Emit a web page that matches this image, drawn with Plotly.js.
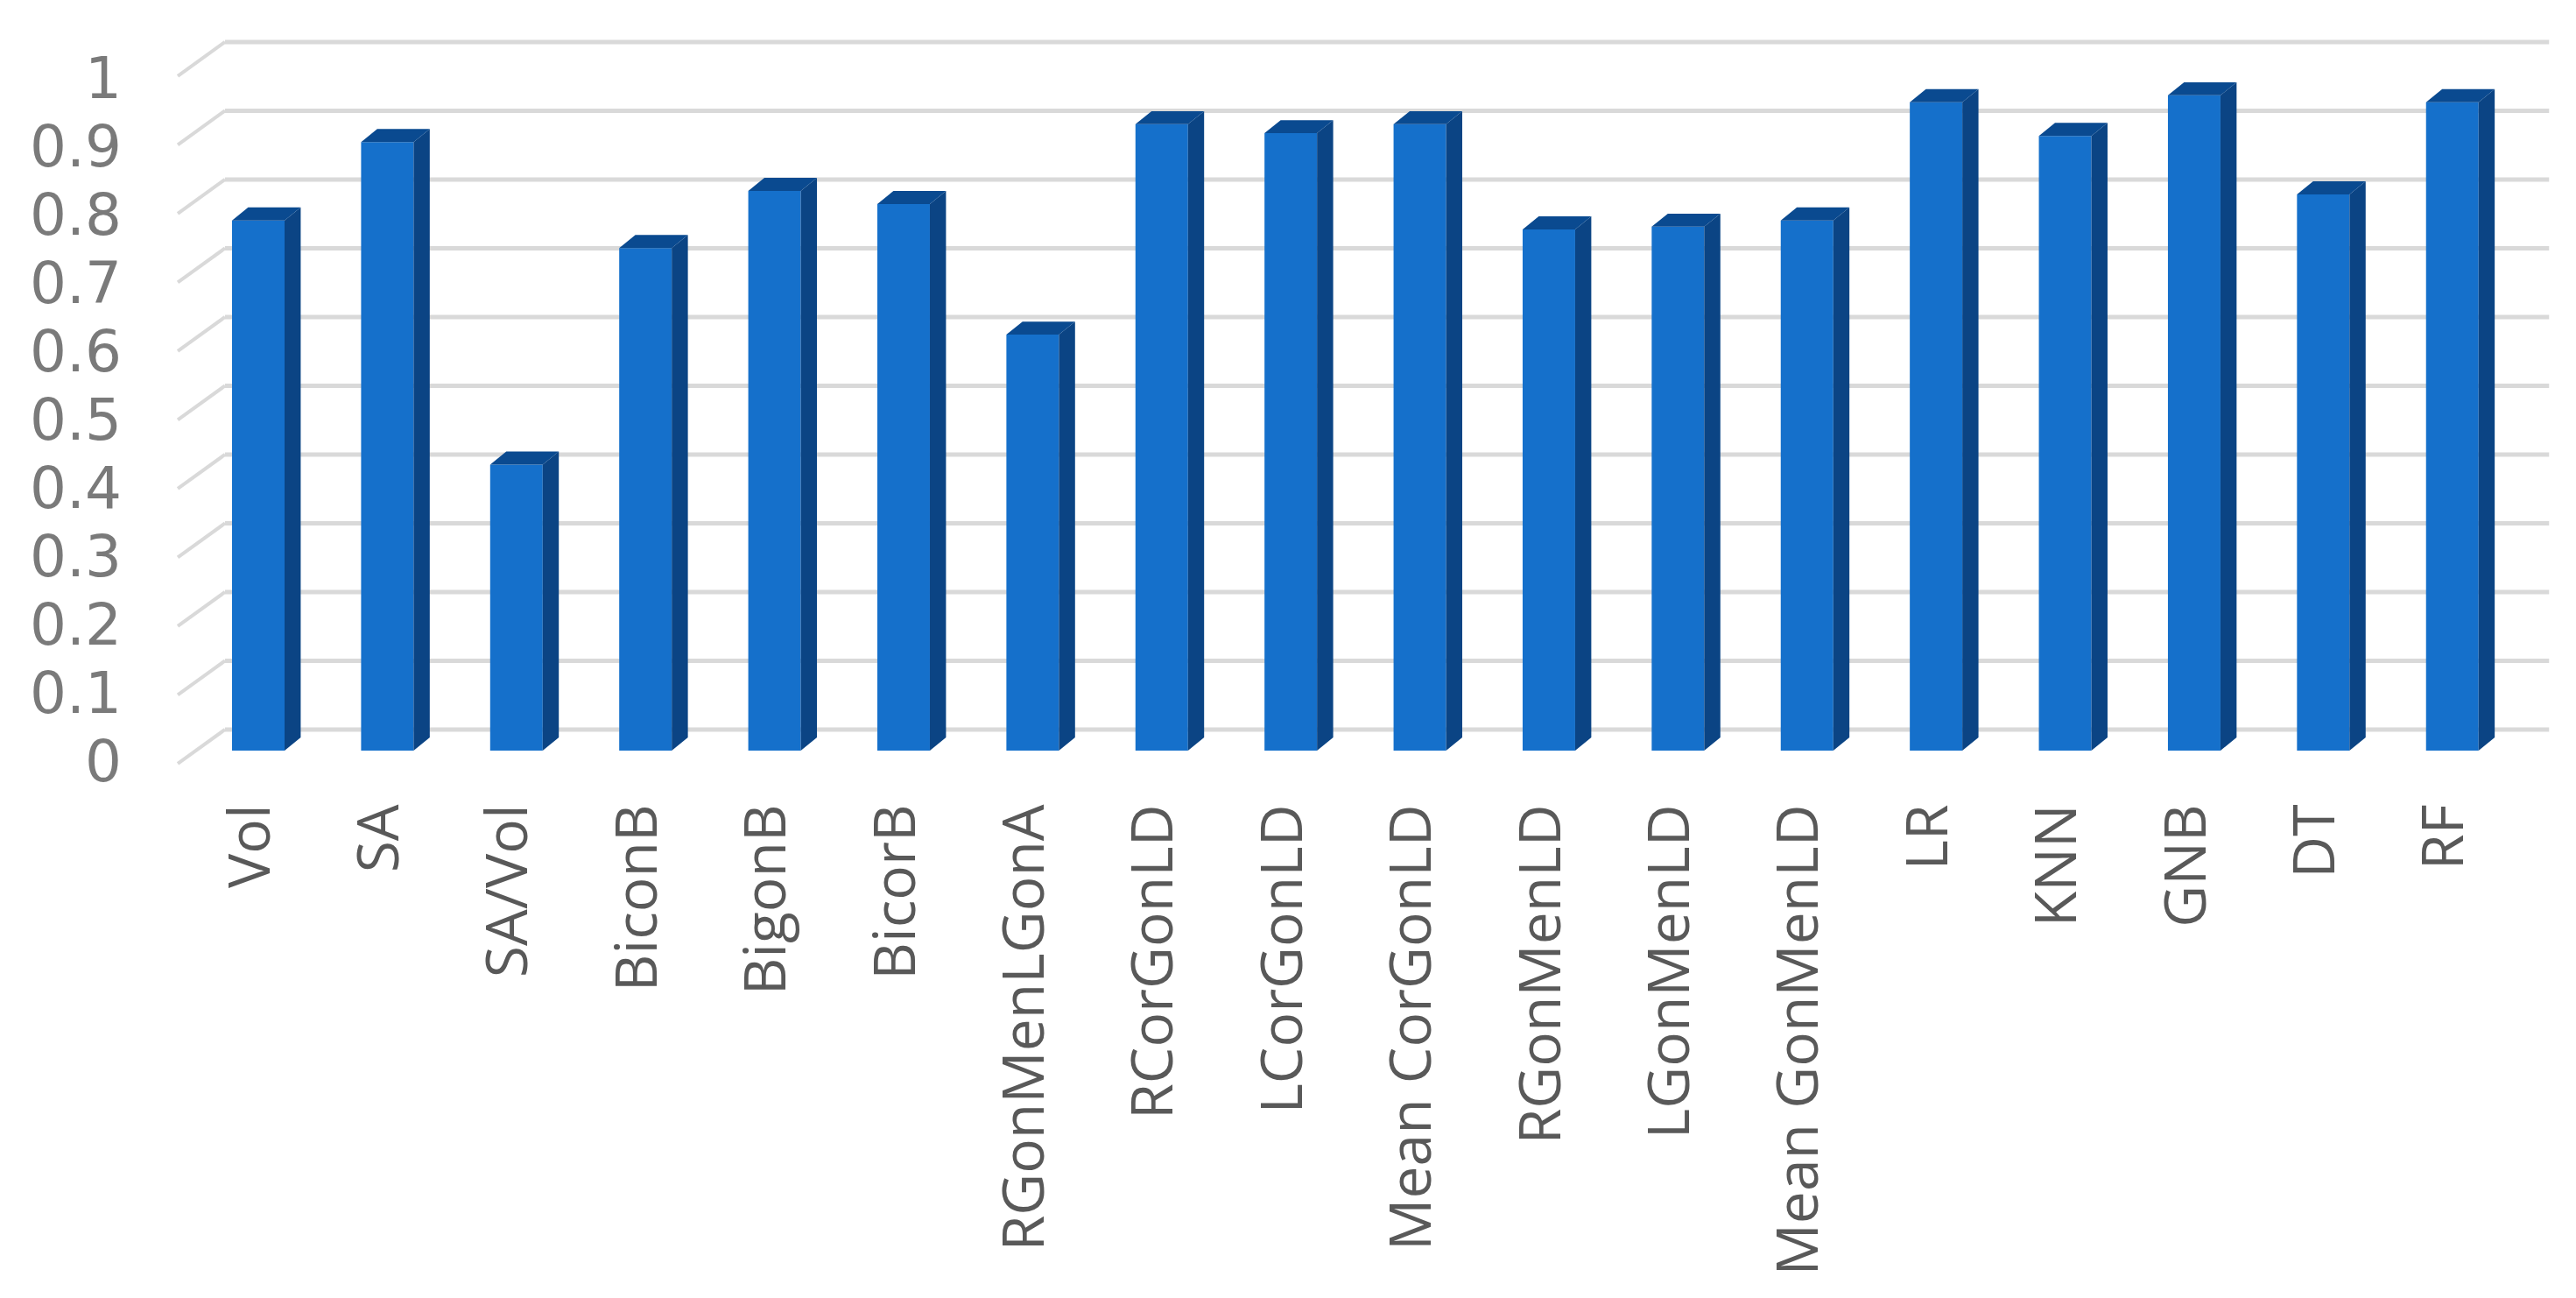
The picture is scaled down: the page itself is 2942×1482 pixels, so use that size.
<!DOCTYPE html>
<html>
<head>
<meta charset="utf-8">
<script src="https://cdn.plot.ly/plotly-3.0.1.min.js"></script>
<style>
  html, body { margin: 0; padding: 0; background: #fff; }
</style>
</head>
<body>
<div id="chart" style="width:2942px;height:1482px"></div>
<script>
// Values
const categories = ['Vol', 'SA', 'SA/Vol', 'BiconB', 'BigonB', 'BicorB', 'RGonMenLGonA', 'RCorGonLD', 'LCorGonLD',
    'Mean CorGonLD', 'RGonMenLD', 'LGonMenLD', 'Mean GonMenLD', 'LR', 'KNN', 'GNB', 'DT', 'RF'];
const scores = [0.771, 0.885, 0.416, 0.731, 0.814, 0.795, 0.605, 0.911, 0.898,
    0.911, 0.758, 0.762, 0.771, 0.943, 0.894, 0.953, 0.809, 0.943];
const yTicks = [0, 0.1, 0.2, 0.3, 0.4, 0.5, 0.6, 0.7, 0.8, 0.9, 1];

const xPos = categories.map((c, i) => i);

// Fake 3D look, offsets in axis units
const barWidth = 0.407;
const barDepthX = 0.125;
const barDepthY = 0.019;
const wallBackX = -0.258;
const wallFrontX = -0.624;
const wallRightX = 17.75;
const wallBackY = 0.0306;
const wallFrontY = -0.019;

// Side and top faces of the bars
const sideX = [], sideY = [], topX = [], topY = [];
scores.forEach((v, i) => {
    const r = i + barWidth / 2;
    const l = i - barWidth / 2;
    sideX.push(r, r + barDepthX, r + barDepthX, r, r, null);
    sideY.push(0, barDepthY, v + barDepthY, v, 0, null);
    topX.push(l, l + barDepthX, r + barDepthX, r, l, null);
    topY.push(v, v + barDepthY, v + barDepthY, v, v, null);
});

const traces = [
    {
        type: 'bar',
        x: xPos,
        y: scores,
        width: barWidth,
        marker: { color: '#1570CB', line: { width: 0 } },
        hoverinfo: 'skip'
    },
    {
        type: 'scatter',
        mode: 'lines',
        x: sideX,
        y: sideY,
        fill: 'toself',
        fillcolor: '#0B4484',
        line: { width: 0 },
        hoverinfo: 'skip'
    },
    {
        type: 'scatter',
        mode: 'lines',
        x: topX,
        y: topY,
        fill: 'toself',
        fillcolor: '#0A4A90',
        line: { width: 0 },
        hoverinfo: 'skip'
    }
];

// Back wall gridlines and the diagonal floor/side lines
const shapes = [];
yTicks.forEach(v => {
    shapes.push({
        type: 'line', layer: 'below', xref: 'x', yref: 'y',
        x0: wallBackX, x1: wallRightX, y0: v + wallBackY, y1: v + wallBackY,
        line: { color: '#D9D9D9', width: 5 }
    });
    shapes.push({
        type: 'line', layer: 'below', xref: 'x', yref: 'y',
        x0: wallFrontX, x1: wallBackX, y0: v + wallFrontY, y1: v + wallBackY,
        line: { color: '#D9D9D9', width: 4 }
    });
});

const layout = {
    width: 2942,
    height: 1482,
    paper_bgcolor: '#ffffff',
    plot_bgcolor: '#ffffff',
    showlegend: false,
    margin: { l: 140, r: 12, t: 20, b: 602 },
    font: { family: "'Open Sans', sans-serif" },
    xaxis: {
        range: [-1.0516, 17.877],
        tickmode: 'array',
        tickvals: xPos.map(i => i - 0.06),
        ticktext: categories,
        tickangle: -90,
        ticks: 'outside',
        ticklen: 11,
        tickcolor: 'rgba(0,0,0,0)',
        tickfont: { size: 66, color: '#595959' },
        showgrid: false,
        zeroline: false,
        showline: false
    },
    yaxis: {
        range: [-0.0293, 1.0662],
        tickmode: 'array',
        // labels sit a little lower than the front edge of the floor lines
        tickvals: yTicks.map(v => v * 0.9936 - 0.0153),
        ticktext: yTicks.map(String),
        ticks: '',
        tickfont: { family: "'DejaVu Sans', sans-serif", size: 66, color: '#7A7A7A' },
        showgrid: false,
        zeroline: false,
        showline: false
    },
    shapes: shapes
};

Plotly.newPlot('chart', traces, layout, { displayModeBar: false });
</script>
</body>
</html>
